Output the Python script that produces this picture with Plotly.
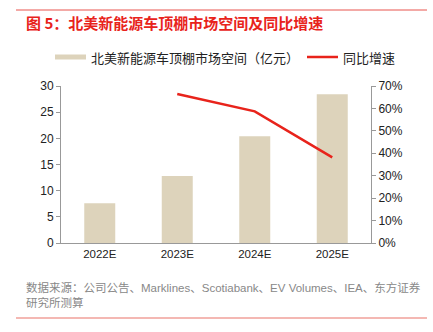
import plotly.graph_objects as go

categories = ["2022E", "2023E", "2024E", "2025E"]
market = [7.6, 12.8, 20.4, 28.4]
growth_cats = ["2023E", "2024E", "2025E"]
growth = [0.664, 0.587, 0.382]

W, H = 433, 332
L, R, T, B = 61, 62, 86, 89
pw, ph = W - L - R, H - T - B

def px(x):
    return (x - L) / pw

def py(y):
    return (H - B - y) / ph

FONT = "Liberation Sans, Arial, Noto Sans CJK SC, sans-serif"
CJK = "Noto Sans CJK SC, sans-serif"
BAR_C = "#ddd3bb"
LINE_C = "#e8231b"

fig = go.Figure()
fig.add_trace(go.Bar(x=categories, y=market, name="北美新能源车顶棚市场空间（亿元）",
                     marker_color=BAR_C, marker_line_width=0, yaxis="y"))
fig.add_trace(go.Scatter(x=growth_cats, y=growth, name="同比增速", mode="lines",
                         line=dict(color=LINE_C, width=2.5), yaxis="y2"))

fig.update_layout(
    width=W, height=H, margin=dict(l=L, r=R, t=T, b=B),
    paper_bgcolor="white", plot_bgcolor="white",
    bargap=0.6, showlegend=False,
    font=dict(family=FONT, size=12, color="#222"),
    xaxis=dict(showline=True, linecolor="#999", linewidth=1, ticks="", showgrid=False,
               tickfont=dict(size=11.5, color="#222")),
    yaxis=dict(range=[0, 30], dtick=5, showline=True, linecolor="#999", linewidth=1,
               ticks="outside", ticklen=4, tickcolor="#999", showgrid=False, zeroline=False,
               tickfont=dict(size=12, color="#222")),
    yaxis2=dict(range=[0, 0.7], dtick=0.1, tickformat=".0%", overlaying="y", side="right",
                showline=True, linecolor="#999", linewidth=1, ticks="outside", ticklen=4,
                tickcolor="#999", showgrid=False, zeroline=False,
                tickfont=dict(size=12, color="#222")),
    shapes=[
        dict(type="line", xref="paper", yref="paper", x0=px(16), x1=px(427), y0=py(10), y1=py(10),
             line=dict(color="#e8554e", width=1)),
        dict(type="line", xref="paper", yref="paper", x0=px(16), x1=px(427), y0=py(318), y1=py(318),
             line=dict(color="#f0a09a", width=1.5)),
        # legend swatches
        dict(type="rect", xref="paper", yref="paper", x0=px(55), x1=px(86), y0=py(59.5), y1=py(54.5),
             fillcolor=BAR_C, line=dict(width=0)),
        dict(type="line", xref="paper", yref="paper", x0=px(307), x1=px(338), y0=py(57), y1=py(57),
             line=dict(color=LINE_C, width=2.5)),
    ],
    annotations=[
        dict(text="<b>图 5：北美新能源车顶棚市场空间及同比增速</b>", xref="paper", yref="paper",
             x=px(24), y=py(22), xanchor="left", yanchor="middle", showarrow=False,
             font=dict(size=15, color=LINE_C, family=CJK)),
        dict(text="北美新能源车顶棚市场空间（亿元）", xref="paper", yref="paper",
             x=px(89), y=py(57), xanchor="left", yanchor="middle", showarrow=False,
             font=dict(size=13, color="#222", family=CJK)),
        dict(text="同比增速", xref="paper", yref="paper",
             x=px(341), y=py(57), xanchor="left", yanchor="middle", showarrow=False,
             font=dict(size=13, color="#222", family=CJK)),
        dict(text="数据来源：公司公告、Marklines、Scotiabank、EV Volumes、IEA、东方证券<br>研究所测算",
             xref="paper", yref="paper", x=px(24), y=py(295), xanchor="left", yanchor="middle",
             align="left", showarrow=False,
             font=dict(size=11.5, color="#888", family="Liberation Sans, Noto Sans CJK SC, sans-serif")),
    ],
)

fig.write_html("out.html")
